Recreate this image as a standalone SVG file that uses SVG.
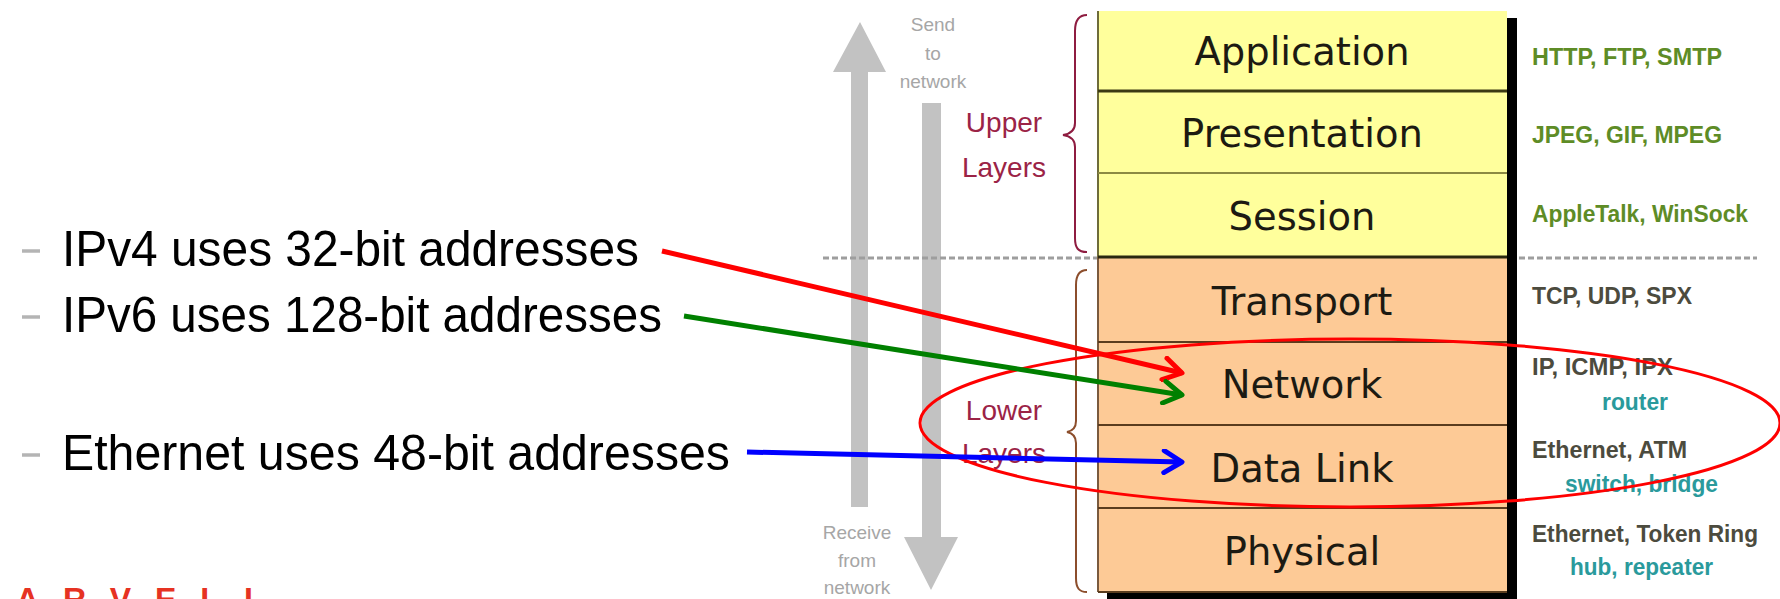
<svg xmlns="http://www.w3.org/2000/svg" width="1780" height="599" viewBox="0 0 1780 599">
  <defs>
    <style>
      .bullet { font-family: "Liberation Sans", Arial, sans-serif; font-size: 50px; fill: #000; }
      .dash { stroke: #b4b4b4; stroke-width: 3.5; }
      .flow { font-family: "Liberation Sans", Arial, sans-serif; font-size: 19px; fill: #a6a6a6; text-anchor: middle; }
      .group-label { font-family: "Liberation Sans", Arial, sans-serif; font-size: 28px; fill: #9b2346; text-anchor: middle; }
      .layer-name { font-family: "DejaVu Sans", Verdana, sans-serif; font-size: 38.5px; fill: #1c1a12; text-anchor: middle; }
      .upper { fill: #ffff9c; }
      .lower { fill: #fdca96; }
      .proto { font-family: "Liberation Sans", Arial, sans-serif; font-size: 24px; font-weight: bold; }
      .green { fill: #5e8c26; }
      .dark { fill: #4c4b3e; }
      .teal { fill: #2a9a9c; }
      .connector { fill: none; stroke-width: 5; }
    </style>
    <marker id="head-red" viewBox="0 0 26 26" refX="22" refY="13" markerWidth="26" markerHeight="26" markerUnits="userSpaceOnUse" orient="auto">
      <path d="M4,2 L22,13 L4,24" fill="none" stroke="#ff0000" stroke-width="5" stroke-linecap="round" stroke-linejoin="round"/>
    </marker>
    <marker id="head-green" viewBox="0 0 26 26" refX="22" refY="13" markerWidth="26" markerHeight="26" markerUnits="userSpaceOnUse" orient="auto">
      <path d="M4,2 L22,13 L4,24" fill="none" stroke="#008000" stroke-width="5" stroke-linecap="round" stroke-linejoin="round"/>
    </marker>
    <marker id="head-blue" viewBox="0 0 26 26" refX="22" refY="13" markerWidth="26" markerHeight="26" markerUnits="userSpaceOnUse" orient="auto">
      <path d="M4,2 L22,13 L4,24" fill="none" stroke="#0000ff" stroke-width="5" stroke-linecap="round" stroke-linejoin="round"/>
    </marker>
  </defs>

  <rect width="1780" height="599" fill="#ffffff"/>

  <!-- bullet points on the left -->
  <g id="bullets">
    <line class="dash" x1="22" y1="251" x2="40" y2="251"/>
    <text class="bullet" x="62" y="266" textLength="577" lengthAdjust="spacingAndGlyphs">IPv4 uses 32-bit addresses</text>
    <line class="dash" x1="22" y1="317" x2="40" y2="317"/>
    <text class="bullet" x="62" y="332" textLength="600" lengthAdjust="spacingAndGlyphs">IPv6 uses 128-bit addresses</text>
    <line class="dash" x1="22" y1="455" x2="40" y2="455"/>
    <text class="bullet" x="62" y="470" textLength="668" lengthAdjust="spacingAndGlyphs">Ethernet uses 48-bit addresses</text>
  </g>

  <!-- logo, cut by the lower edge -->
  <text x="16" y="610" font-family="Liberation Sans, Arial, sans-serif" font-size="32" font-weight="bold" fill="#e63222" letter-spacing="24">ARVELL</text>

  <!-- send / receive direction arrows -->
  <g id="send-arrow">
    <polygon points="851,507 851,72 833,72 860,22 886,72 868,72 868,507" fill="#c2c2c2"/>
    <text class="flow" x="933" y="31">Send</text>
    <text class="flow" x="933" y="60">to</text>
    <text class="flow" x="933" y="88">network</text>
  </g>
  <g id="receive-arrow">
    <polygon points="922,103 941,103 941,537 958,537 931,590 904,537 922,537" fill="#c2c2c2"/>
    <text class="flow" x="857" y="539">Receive</text>
    <text class="flow" x="857" y="567">from</text>
    <text class="flow" x="857" y="594">network</text>
  </g>

  <!-- separator between upper and lower layers -->
  <g id="separator" stroke="#9e9e9e" stroke-width="3" stroke-dasharray="6 3">
    <line x1="823" y1="258" x2="1098" y2="258"/>
    <line x1="1519" y1="258" x2="1757" y2="258"/>
  </g>

  <!-- layer groupings -->
  <g id="upper-layers">
    <path d="M1087,15 C1078,15 1075,21 1075,31 L1075,123 C1075,130 1070,134 1063,135 C1070,136 1075,140 1075,147 L1075,238 C1075,248 1078,252 1087,252" fill="none" stroke="#8e1c40" stroke-width="2"/>
    <text class="group-label" x="1004" y="132">Upper</text>
    <text class="group-label" x="1004" y="177">Layers</text>
  </g>
  <g id="lower-layers">
    <path d="M1087,270 C1079,270 1076,276 1076,285 L1076,421 C1076,428 1072,431 1067,432 C1072,433 1076,436 1076,443 L1076,578 C1076,588 1079,592 1087,592" fill="none" stroke="#8c4e2c" stroke-width="2"/>
    <text class="group-label" x="1004" y="420">Lower</text>
    <text class="group-label" x="1004" y="463">Layers</text>
  </g>

  <!-- OSI stack -->
  <rect x="1107" y="18" width="410" height="581" fill="#000"/>
  <g id="layer-application">
    <rect class="upper" x="1098" y="11" width="409" height="80"/>
    <text class="layer-name" x="1302" y="65">Application</text>
  </g>
  <g id="layer-presentation">
    <rect class="upper" x="1098" y="91" width="409" height="82"/>
    <text class="layer-name" x="1302" y="147">Presentation</text>
  </g>
  <g id="layer-session">
    <rect class="upper" x="1098" y="173" width="409" height="84"/>
    <text class="layer-name" x="1302" y="230">Session</text>
  </g>
  <g id="layer-transport">
    <rect class="lower" x="1098" y="257" width="409" height="85"/>
    <text class="layer-name" x="1302" y="315">Transport</text>
  </g>
  <g id="layer-network">
    <rect class="lower" x="1098" y="342" width="409" height="83"/>
    <text class="layer-name" x="1302" y="398">Network</text>
  </g>
  <g id="layer-datalink">
    <rect class="lower" x="1098" y="425" width="409" height="83"/>
    <text class="layer-name" x="1302" y="482">Data Link</text>
  </g>
  <g id="layer-physical">
    <rect class="lower" x="1098" y="508" width="409" height="84"/>
    <text class="layer-name" x="1302" y="565">Physical</text>
  </g>
  <g id="stack-lines" fill="none">
    <line x1="1098" y1="11" x2="1098" y2="257" stroke="#6e6c3a" stroke-width="2"/>
    <line x1="1098" y1="257" x2="1098" y2="592" stroke="#7a5a3e" stroke-width="2"/>
    <line x1="1098" y1="91" x2="1507" y2="91" stroke="#3c3a14" stroke-width="3"/>
    <line x1="1098" y1="173" x2="1507" y2="173" stroke="#8c8a42" stroke-width="2"/>
    <line x1="1098" y1="257" x2="1507" y2="257" stroke="#2a2810" stroke-width="3"/>
    <line x1="1098" y1="342" x2="1507" y2="342" stroke="#5a3c1e" stroke-width="2"/>
    <line x1="1098" y1="425" x2="1507" y2="425" stroke="#5a3c1e" stroke-width="2"/>
    <line x1="1098" y1="508" x2="1507" y2="508" stroke="#5a3c1e" stroke-width="2"/>
    <line x1="1098" y1="592" x2="1507" y2="592" stroke="#5a3c1e" stroke-width="2"/>
  </g>

  <!-- protocols and devices per layer -->
  <g id="protocols" class="proto">
    <text class="green" x="1532" y="65" textLength="190" lengthAdjust="spacingAndGlyphs">HTTP, FTP, SMTP</text>
    <text class="green" x="1532" y="143" textLength="190" lengthAdjust="spacingAndGlyphs">JPEG, GIF, MPEG</text>
    <text class="green" x="1532" y="222" textLength="216" lengthAdjust="spacingAndGlyphs">AppleTalk, WinSock</text>
    <text class="dark" x="1532" y="304" textLength="160" lengthAdjust="spacingAndGlyphs">TCP, UDP, SPX</text>
    <text class="dark" x="1532" y="375" textLength="141" lengthAdjust="spacingAndGlyphs">IP, ICMP, IPX</text>
    <text class="teal" x="1602" y="410" textLength="66" lengthAdjust="spacingAndGlyphs">router</text>
    <text class="dark" x="1532" y="458" textLength="155" lengthAdjust="spacingAndGlyphs">Ethernet, ATM</text>
    <text class="teal" x="1565" y="492" textLength="153" lengthAdjust="spacingAndGlyphs">switch, bridge</text>
    <text class="dark" x="1532" y="542" textLength="226" lengthAdjust="spacingAndGlyphs">Ethernet, Token Ring</text>
    <text class="teal" x="1570" y="575" textLength="143" lengthAdjust="spacingAndGlyphs">hub, repeater</text>
  </g>

  <!-- highlight round network and data link -->
  <ellipse id="highlight" cx="1350" cy="423" rx="430" ry="84" fill="none" stroke="#ff0000" stroke-width="3"/>

  <!-- connectors from bullets to layers -->
  <g id="connectors" class="connector">
    <path d="M662,251 L1182,373" stroke="#ff0000" marker-end="url(#head-red)"/>
    <path d="M684,316 L1182,395" stroke="#008000" marker-end="url(#head-green)"/>
    <path d="M747,452 L1182,462" stroke="#0000ff" marker-end="url(#head-blue)"/>
  </g>
</svg>
